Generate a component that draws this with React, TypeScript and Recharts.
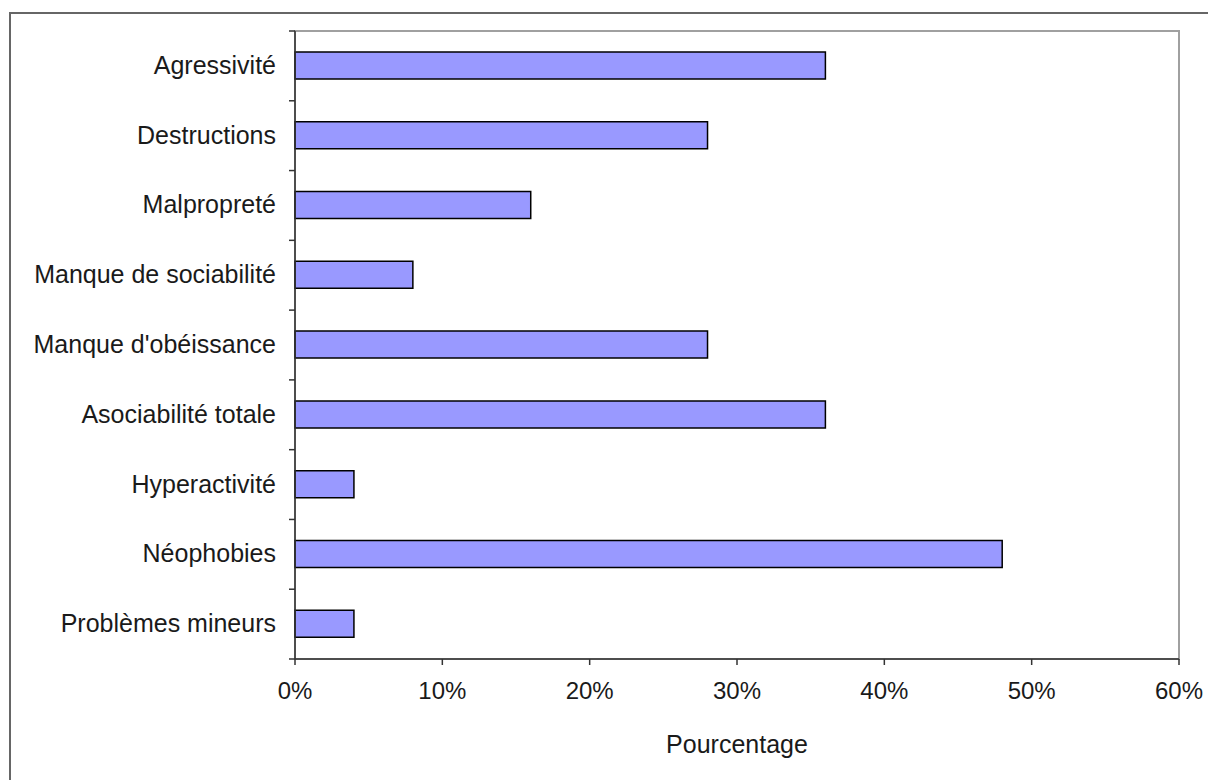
import React from "react";
import { BarChart, Bar, XAxis, YAxis, ReferenceArea } from "recharts";

// catégories de troubles (du haut vers le bas)
const categories = [
  "Agressivité",
  "Destructions",
  "Malpropreté",
  "Manque de sociabilité",
  "Manque d'obéissance",
  "Asociabilité totale",
  "Hyperactivité",
  "Néophobies",
  "Problèmes mineurs",
];

// pourcentages
const pourcentages = [36, 28, 16, 8, 28, 36, 4, 48, 4];

const xTicks = [0, 10, 20, 30, 40, 50, 60];

const W = 1208;
const H = 772;
const M = { top: 23, right: 37, left: 0, bottom: 21 };
const Y_W = 287;
const X_H = 100;
const BAND = (H - M.top - M.bottom - X_H) / categories.length;
const FONT = "'Liberation Sans', Arial, sans-serif";

const data = categories.map((name, i) => ({ name, value: pourcentages[i] }));

function CategoryTick(props: any) {
  const { x, y, payload, index } = props;
  const axisX = x + 19;
  const last = index === categories.length - 1;
  return (
    <g>
      <line x1={axisX - 6} x2={axisX} y1={y - BAND / 2} y2={y - BAND / 2} stroke="#333" strokeWidth={1.5} />
      {last && (
        <line x1={axisX - 6} x2={axisX} y1={y + BAND / 2} y2={y + BAND / 2} stroke="#333" strokeWidth={1.5} />
      )}
      <text x={x} y={y} dy={8} textAnchor="end" fill="#1a1a1a" fontSize={25} fontFamily={FONT}>
        {payload.value}
      </text>
    </g>
  );
}

export default function App() {
  return (
    <div style={{ position: "relative", width: W, height: H, background: "#fff" }}>
      <div
        style={{
          position: "absolute",
          left: 1,
          top: 4,
          width: W + 40,
          height: H + 40,
          borderTop: "2px solid #666",
          borderLeft: "2px solid #666",
          boxSizing: "border-box",
        }}
      />
      <div style={{ position: "absolute", left: 0, top: 0 }}>
        <BarChart width={W} height={H} data={data} layout="vertical" margin={M} barSize={27}>
          <ReferenceArea x1={0} x2={60} fill="none" stroke="#a0a0a0" strokeWidth={2} ifOverflow="visible" />
          <XAxis
            type="number"
            domain={[0, 60]}
            ticks={xTicks}
            tickFormatter={(v) => `${v}%`}
            height={X_H}
            axisLine={{ stroke: "#333", strokeWidth: 1.5 }}
            tickLine={{ stroke: "#333", strokeWidth: 1.5 }}
            tickSize={6}
            tickMargin={17}
            tick={{ fill: "#1a1a1a", fontSize: 24, fontFamily: FONT }}
            label={{
              value: "Pourcentage",
              position: "insideBottom",
              offset: 6,
              fill: "#1a1a1a",
              fontSize: 25,
              fontFamily: FONT,
            }}
          />
          <YAxis
            type="category"
            dataKey="name"
            width={Y_W}
            axisLine={{ stroke: "#333", strokeWidth: 1.5 }}
            tickLine={false}
            tickSize={6}
            tickMargin={13}
            interval={0}
            tick={<CategoryTick />}
          />
          <Bar dataKey="value" fill="#9999ff" stroke="#000" strokeWidth={1.5} isAnimationActive={false} />
        </BarChart>
      </div>
    </div>
  );
}
